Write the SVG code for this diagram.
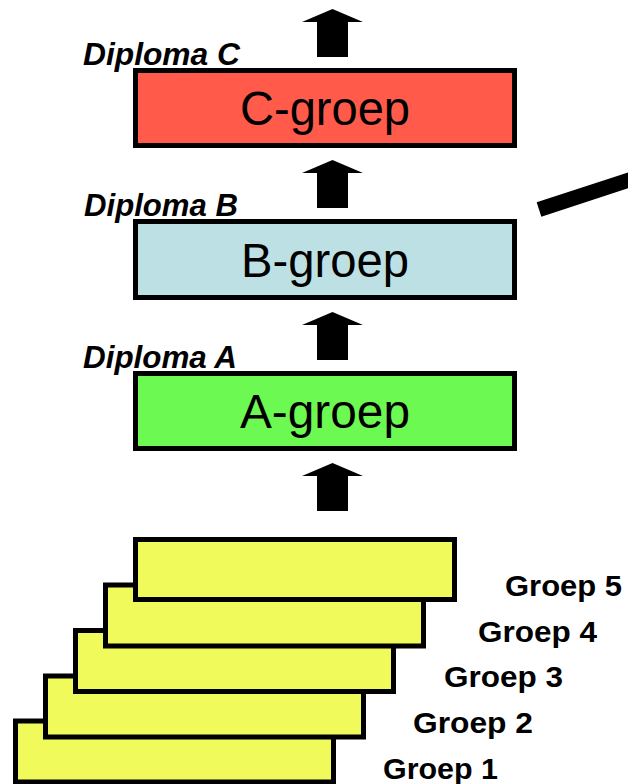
<svg xmlns="http://www.w3.org/2000/svg" width="628" height="784" viewBox="0 0 628 784">
<style>
.box{stroke:#000;stroke-width:5}
.big{font-family:"Liberation Sans",Arial,sans-serif;font-size:48px;fill:#000;text-anchor:middle}
.dip{font-family:"Liberation Sans",Arial,sans-serif;font-size:31px;font-weight:bold;font-style:italic;fill:#000}
.grp{font-family:"Liberation Sans",Arial,sans-serif;font-size:30px;font-weight:bold;fill:#000}
.y{fill:#F0FA5A}
.arr{fill:#000}
</style>
<defs>
<path id="up" d="M332.5 0 L363 13 L348 13 L348 48 L317 48 L317 13 L302 13 Z"/>
</defs>
<rect width="628" height="784" fill="#fff"/>
<g id="connectors">
<use href="#up" class="arr" y="9"/>
<use href="#up" class="arr" y="160"/>
<use href="#up" class="arr" y="312"/>
<use href="#up" class="arr" y="463"/>
<line x1="539" y1="209.5" x2="660" y2="169.8" stroke="#000" stroke-width="15"/>
</g>
<g id="c-groep">
<rect class="box" x="135.5" y="70.5" width="379" height="75" fill="#FF5A4A"/>
<text class="big" x="325" y="125" textLength="170" lengthAdjust="spacingAndGlyphs">C-groep</text>
<text class="dip" x="83" y="65" textLength="157" lengthAdjust="spacingAndGlyphs">Diploma C</text>
</g>
<g id="b-groep">
<rect class="box" x="135.5" y="221.5" width="379" height="76" fill="#BCE0E3"/>
<text class="big" x="325" y="277" textLength="168" lengthAdjust="spacingAndGlyphs">B-groep</text>
<text class="dip" x="84" y="216" textLength="154" lengthAdjust="spacingAndGlyphs">Diploma B</text>
</g>
<g id="a-groep">
<rect class="box" x="135.5" y="373.5" width="379" height="75" fill="#6CFA52"/>
<text class="big" x="325" y="428" textLength="170" lengthAdjust="spacingAndGlyphs">A-groep</text>
<text class="dip" x="83" y="368" textLength="154" lengthAdjust="spacingAndGlyphs">Diploma A</text>
</g>
<g id="groep1">
<rect class="box y" x="15.5" y="721" width="318" height="61"/>
<text class="grp" x="383" y="779" textLength="115" lengthAdjust="spacingAndGlyphs">Groep 1</text>
</g>
<g id="groep2">
<rect class="box y" x="45.5" y="676" width="318" height="61"/>
<text class="grp" x="413" y="733" textLength="120" lengthAdjust="spacingAndGlyphs">Groep 2</text>
</g>
<g id="groep3">
<rect class="box y" x="75.5" y="630.5" width="318" height="61"/>
<text class="grp" x="444" y="687" textLength="119" lengthAdjust="spacingAndGlyphs">Groep 3</text>
</g>
<g id="groep4">
<rect class="box y" x="105.5" y="585" width="318" height="61"/>
<text class="grp" x="478" y="642" textLength="119" lengthAdjust="spacingAndGlyphs">Groep 4</text>
</g>
<g id="groep5">
<rect class="box y" x="135.5" y="539.5" width="319" height="60"/>
<text class="grp" x="505" y="596" textLength="117" lengthAdjust="spacingAndGlyphs">Groep 5</text>
</g>
</svg>
